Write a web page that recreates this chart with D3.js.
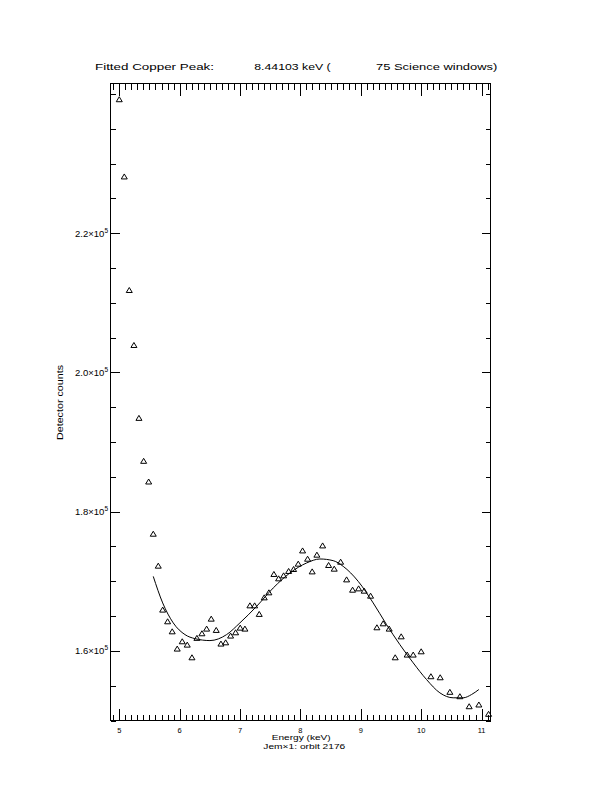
<!DOCTYPE html>
<html>
<head>
<meta charset="utf-8">
<script src="https://cdn.jsdelivr.net/npm/d3@7"></script>
<style>
  html, body { margin: 0; padding: 0; background: #fff; }
  svg { display: block; }
  text { font-family: "Liberation Sans", Arial, sans-serif; fill: #000; }
</style>
</head>
<body>
<svg id="chart" width="612" height="792"></svg>
<script>
// ---- data ----
const energy = [5.000, 5.083, 5.166, 5.243, 5.326, 5.404, 5.487, 5.563, 5.646, 5.719,
  5.801, 5.877, 5.960, 6.043, 6.126, 6.204, 6.286, 6.369, 6.447, 6.523,
  6.606, 6.684, 6.762, 6.844, 6.927, 7.003, 7.081, 7.164, 7.242, 7.318,
  7.401, 7.478, 7.561, 7.639, 7.722, 7.805, 7.887, 7.964, 8.036, 8.119,
  8.195, 8.273, 8.368, 8.467, 8.560, 8.666, 8.765, 8.864, 8.964, 9.056,
  9.162, 9.267, 9.371, 9.470, 9.570, 9.669, 9.768, 9.868, 10.000, 10.161,
  10.315, 10.475, 10.641, 10.795, 10.955, 11.116];
const counts = [239240, 228150, 211840, 203940, 193470, 187300, 184330, 176830, 172240, 165930,
  164250, 162810, 160330, 161380, 160900, 159080, 161870, 162530, 163200, 164630,
  163010, 161050, 161230, 162200, 162670, 163340, 163200, 166540, 166540, 165310,
  167690, 168410, 171050, 170420, 170850, 171480, 171760, 172530, 174430, 173240,
  171420, 173820, 175150, 172340, 171810, 172810, 170270, 168790, 168980, 168650,
  167930, 163390, 163960, 163200, 159080, 162090, 159470, 159470, 159940, 156360,
  156210, 154120, 153490, 152050, 152300, 150960];

const fitEnergy = [5.563, 5.719, 5.894, 6.088, 6.253, 6.502, 6.778, 6.998, 7.275, 7.550,
  7.826, 8.103, 8.323, 8.543, 8.709, 8.957, 9.205, 9.427, 9.647, 9.868,
  10.089, 10.310, 10.530, 10.695, 10.834, 10.955];
const fitCounts = [170700, 166890, 164020, 162340, 161760, 161480, 162340, 164020, 166400, 169040,
  171190, 172630, 173200, 172960, 172140, 169990, 166890, 163770, 160900, 158280,
  155880, 153970, 153260, 153260, 153730, 154450];

const xTickValues = [5, 6, 7, 8, 9, 10, 11];
const xTickLabels = ["5", "6", "7", "8", "9", "10", "11"];
const yTickValues = [160000, 180000, 200000, 220000];
const yTickMantissa = ["1.6", "1.8", "2.0", "2.2"];
const yTickExponent = ["5", "5", "5", "5"];

const titleParts = ["Fitted Copper Peak:", "8.44103 keV (", "75 Science windows)"];
const xTitle = "Energy (keV)";
const subTitle = "Jem\u00d71: orbit 2176";
const yTitle = "Detector counts";

// ---- layout ----
const L = 110.5, R = 490.5, T = 83.5, B = 720.5;
const svg = d3.select("#chart");

const x = d3.scaleLinear().domain([4.855, 11.148]).range([L, R]);
const y = d3.scaleLinear().domain([150000, 241500]).range([B, T]);

// frame
svg.append("rect").attr("x", L).attr("y", T).attr("width", R - L).attr("height", B - T)
  .attr("fill", "none").attr("stroke", "#000").attr("stroke-width", 1)
  .attr("shape-rendering", "crispEdges");

// ticks via d3 axes (inward)
const xMinor = d3.range(49, 112).map(d => d / 10);
const yMinor = d3.range(30, 49).map(d => d * 5000);

function styleAxis(g) {
  g.select(".domain").remove();
  g.selectAll("line").attr("stroke", "#000").attr("stroke-width", 1).attr("shape-rendering", "crispEdges");
  g.selectAll("text").remove();
}

// bottom
svg.append("g").attr("transform", `translate(0,${B})`)
  .call(d3.axisTop(x).tickValues(xMinor).tickSize(6)).call(styleAxis);
svg.append("g").attr("transform", `translate(0,${B})`)
  .call(d3.axisTop(x).tickValues(xTickValues).tickSize(12)).call(styleAxis);
// top
svg.append("g").attr("transform", `translate(0,${T})`)
  .call(d3.axisBottom(x).tickValues(xMinor).tickSize(6)).call(styleAxis);
svg.append("g").attr("transform", `translate(0,${T})`)
  .call(d3.axisBottom(x).tickValues(xTickValues).tickSize(12)).call(styleAxis);
// left
svg.append("g").attr("transform", `translate(${L},0)`)
  .call(d3.axisRight(y).tickValues(yMinor).tickSize(5)).call(styleAxis);
svg.append("g").attr("transform", `translate(${L},0)`)
  .call(d3.axisRight(y).tickValues(yTickValues).tickSize(9)).call(styleAxis);
// right
svg.append("g").attr("transform", `translate(${R},0)`)
  .call(d3.axisLeft(y).tickValues(yMinor).tickSize(5)).call(styleAxis);
svg.append("g").attr("transform", `translate(${R},0)`)
  .call(d3.axisLeft(y).tickValues(yTickValues).tickSize(9)).call(styleAxis);

// x tick labels
svg.append("g").selectAll("text").data(xTickValues).join("text")
  .attr("x", d => x(d)).attr("y", 732.5)
  .attr("text-anchor", "middle").attr("font-size", 7.5)
  .text((d, i) => xTickLabels[i]);

// y tick labels
const yl = svg.append("g").selectAll("text").data(yTickValues).join("text")
  .attr("x", 108).attr("y", d => y(d) + 3.5)
  .attr("text-anchor", "end").attr("font-size", 9.5);
yl.append("tspan").text((d, i) => yTickMantissa[i] + "\u00d710");
yl.append("tspan").attr("font-size", 6.5).attr("dy", -4).text((d, i) => yTickExponent[i]);

// title
const titleX = [95, 254.3, 376];
const titleW = [119, 76.4, 121.3];
svg.append("g").selectAll("text").data(titleParts).join("text")
  .attr("x", (d, i) => titleX[i]).attr("y", 70.3)
  .attr("font-size", 9.5)
  .attr("textLength", (d, i) => titleW[i]).attr("lengthAdjust", "spacingAndGlyphs")
  .text(d => d);

// axis titles
svg.append("text").attr("x", 271.7).attr("y", 740).attr("font-size", 7.5)
  .attr("textLength", 59).attr("lengthAdjust", "spacingAndGlyphs").text(xTitle);
svg.append("text").attr("x", 263.3).attr("y", 748.5).attr("font-size", 7.5)
  .attr("textLength", 82).attr("lengthAdjust", "spacingAndGlyphs").text(subTitle);
svg.append("text").attr("transform", "translate(62.5,440) rotate(-90)")
  .attr("font-size", 9)
  .attr("textLength", 75).attr("lengthAdjust", "spacingAndGlyphs").text(yTitle);

// fitted curve
const line = d3.line().x((d, i) => x(fitEnergy[i])).y(d => y(d)).curve(d3.curveMonotoneX);
svg.append("path").datum(fitCounts).attr("d", line)
  .attr("fill", "none").attr("stroke", "#000").attr("stroke-width", 1);

// data triangles
const tri = "M-3,2.5L0,-2.5L3,2.5Z";
svg.append("g").selectAll("path").data(counts).join("path")
  .attr("transform", (d, i) => `translate(${x(energy[i])},${y(d)})`)
  .attr("d", tri).attr("fill", "none").attr("stroke", "#000").attr("stroke-width", 1);
</script>
</body>
</html>
